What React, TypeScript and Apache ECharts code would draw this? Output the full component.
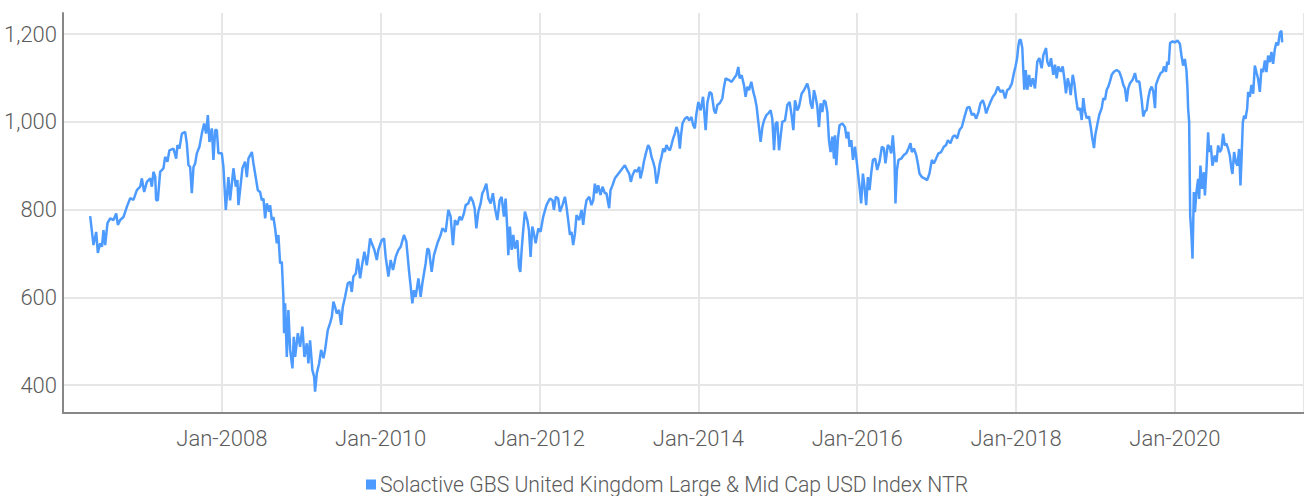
import React, { useEffect, useRef } from "react";
import * as echarts from "echarts";

// Index level (USD, net total return) sampled through time; x = decimal year.
const span2006_07: [number, number][] = [
  [2006.342, 785], [2006.384, 719], [2006.418, 749], [2006.439, 701], [2006.468, 723], [2006.49, 715],
  [2006.51, 753], [2006.531, 719], [2006.56, 769], [2006.594, 780], [2006.636, 776], [2006.67, 791],
  [2006.691, 765], [2006.72, 776], [2006.762, 783], [2006.804, 806], [2006.846, 826], [2006.887, 822],
  [2006.93, 844], [2006.972, 852], [2006.993, 871], [2007.022, 840], [2007.056, 863], [2007.098, 871],
  [2007.119, 852], [2007.139, 886], [2007.161, 875], [2007.173, 821], [2007.194, 821], [2007.223, 886],
  [2007.265, 894], [2007.286, 920], [2007.315, 909], [2007.34, 935], [2007.391, 939], [2007.425, 916],
  [2007.441, 947], [2007.466, 939], [2007.497, 973], [2007.538, 977], [2007.559, 951], [2007.58, 901],
  [2007.601, 897], [2007.622, 837], [2007.643, 897], [2007.664, 905], [2007.685, 928], [2007.718, 943],
  [2007.748, 973], [2007.777, 996], [2007.802, 973], [2007.824, 1015], [2007.844, 954], [2007.874, 985],
  [2007.894, 913], [2007.916, 981], [2007.937, 981], [2007.957, 928],
];

const span2008_09: [number, number][] = [
  [2008.0, 928], [2008.02, 897], [2008.05, 799], [2008.083, 874], [2008.104, 821], [2008.146, 894],
  [2008.176, 852], [2008.196, 867], [2008.209, 810], [2008.23, 844], [2008.259, 894], [2008.293, 909],
  [2008.315, 874], [2008.335, 916], [2008.378, 931], [2008.398, 905], [2008.419, 882], [2008.453, 844],
  [2008.482, 840], [2008.503, 821], [2008.524, 825], [2008.545, 780], [2008.566, 814], [2008.595, 795],
  [2008.608, 810], [2008.629, 776], [2008.649, 783], [2008.671, 757], [2008.692, 723], [2008.712, 742],
  [2008.734, 677], [2008.755, 681], [2008.775, 601], [2008.784, 518], [2008.797, 586], [2008.818, 464],
  [2008.838, 571], [2008.86, 480], [2008.889, 438], [2008.906, 510], [2008.923, 464], [2008.957, 518],
  [2008.986, 487], [2009.014, 533], [2009.04, 464], [2009.07, 495], [2009.09, 449], [2009.111, 502],
  [2009.14, 434], [2009.162, 419], [2009.174, 385], [2009.196, 427], [2009.225, 449], [2009.25, 480],
  [2009.279, 461], [2009.3, 480], [2009.334, 525], [2009.363, 541], [2009.385, 556], [2009.405, 590],
  [2009.426, 578], [2009.447, 563], [2009.476, 571], [2009.502, 537], [2009.523, 578], [2009.552, 601],
  [2009.586, 632], [2009.615, 635], [2009.636, 612], [2009.656, 647], [2009.687, 654], [2009.712, 688],
  [2009.741, 643], [2009.762, 669], [2009.795, 704], [2009.825, 673], [2009.845, 700], [2009.867, 734],
  [2009.888, 723], [2009.921, 708], [2009.951, 685], [2009.971, 708],
];

const span2010_11: [number, number][] = [
  [2010.013, 730], [2010.042, 734], [2010.063, 692], [2010.097, 647], [2010.126, 685], [2010.155, 662],
  [2010.189, 692], [2010.223, 708], [2010.252, 715], [2010.293, 742], [2010.323, 727], [2010.356, 662],
  [2010.378, 624], [2010.399, 586], [2010.419, 616], [2010.441, 601], [2010.475, 643], [2010.503, 601],
  [2010.525, 632], [2010.566, 677], [2010.588, 711], [2010.608, 708], [2010.642, 658], [2010.671, 696],
  [2010.714, 723], [2010.755, 742], [2010.777, 757], [2010.818, 749], [2010.852, 799], [2010.881, 784],
  [2010.91, 719], [2010.935, 776], [2010.965, 765], [2010.994, 784], [2011.02, 776], [2011.048, 791],
  [2011.07, 810], [2011.104, 814], [2011.133, 829], [2011.162, 818], [2011.183, 803], [2011.205, 757],
  [2011.23, 795], [2011.259, 814], [2011.28, 837], [2011.3, 844], [2011.33, 859], [2011.356, 825],
  [2011.385, 814], [2011.413, 837], [2011.439, 803], [2011.469, 776], [2011.498, 821], [2011.523, 829],
  [2011.552, 784], [2011.573, 825], [2011.595, 753], [2011.607, 696], [2011.627, 761], [2011.649, 708],
  [2011.67, 742], [2011.69, 711], [2011.721, 730], [2011.741, 669], [2011.758, 658], [2011.775, 708],
  [2011.791, 745], [2011.816, 795], [2011.846, 776], [2011.867, 753], [2011.888, 692], [2011.909, 761],
  [2011.93, 745], [2011.951, 723], [2011.985, 757],
];

const span2012_13: [number, number][] = [
  [2012.013, 749], [2012.047, 784], [2012.088, 810], [2012.131, 825], [2012.164, 821], [2012.181, 799],
  [2012.206, 829], [2012.235, 825], [2012.257, 795], [2012.289, 810], [2012.32, 829], [2012.34, 806],
  [2012.361, 776], [2012.383, 742], [2012.403, 749], [2012.424, 719], [2012.446, 745], [2012.466, 787],
  [2012.5, 776], [2012.529, 799], [2012.55, 765], [2012.571, 799], [2012.592, 821], [2012.626, 829],
  [2012.654, 810], [2012.676, 821], [2012.697, 859], [2012.717, 837], [2012.739, 855], [2012.768, 833],
  [2012.793, 852], [2012.823, 837], [2012.843, 837], [2012.865, 814], [2012.877, 803], [2012.894, 844],
  [2012.919, 855], [2012.949, 871], [2012.978, 878], [2013.012, 886], [2013.045, 894], [2013.075, 901],
  [2013.104, 890], [2013.129, 882], [2013.15, 863], [2013.171, 878], [2013.201, 890], [2013.23, 886],
  [2013.255, 897], [2013.271, 871], [2013.296, 890], [2013.314, 909], [2013.339, 928], [2013.368, 947],
  [2013.39, 939], [2013.41, 920], [2013.431, 909], [2013.452, 894], [2013.473, 859], [2013.494, 878],
  [2013.515, 905], [2013.536, 920], [2013.557, 939], [2013.578, 931], [2013.598, 947], [2013.62, 939],
  [2013.641, 935], [2013.661, 947], [2013.683, 962], [2013.704, 973], [2013.724, 988], [2013.746, 977],
  [2013.767, 939], [2013.78, 966], [2013.8, 996], [2013.83, 1007], [2013.859, 1011], [2013.884, 1003],
  [2013.913, 1011], [2013.935, 992], [2013.956, 985], [2013.976, 1019],
];

const span2014_15: [number, number][] = [
  [2014.0, 1045], [2014.029, 1026], [2014.059, 1057], [2014.092, 981], [2014.113, 1042], [2014.142, 1068],
  [2014.167, 1064], [2014.198, 1026], [2014.218, 1019], [2014.239, 1038], [2014.268, 1042], [2014.302, 1053],
  [2014.323, 1080], [2014.344, 1099], [2014.386, 1095], [2014.419, 1091], [2014.449, 1099], [2014.478, 1106],
  [2014.503, 1125], [2014.52, 1099], [2014.545, 1106], [2014.575, 1083], [2014.595, 1057], [2014.617, 1080],
  [2014.638, 1072], [2014.667, 1091], [2014.692, 1068], [2014.714, 1053], [2014.734, 1034], [2014.755, 1000],
  [2014.784, 954], [2014.806, 988], [2014.827, 1003], [2014.856, 1015], [2014.881, 1019], [2014.91, 1026],
  [2014.931, 1007], [2014.953, 935], [2014.973, 996], [2014.994, 1000], [2015.016, 935], [2015.036, 966],
  [2015.057, 1000], [2015.091, 1003], [2015.12, 1038], [2015.149, 1045], [2015.174, 1015], [2015.196, 981],
  [2015.217, 1049], [2015.246, 1026], [2015.267, 1034], [2015.3, 1064], [2015.33, 1072], [2015.351, 1080],
  [2015.372, 1087], [2015.393, 1072], [2015.413, 1042], [2015.435, 1030], [2015.456, 1072], [2015.476, 1057],
  [2015.498, 1034], [2015.519, 988], [2015.539, 1042], [2015.561, 1022], [2015.582, 1049], [2015.602, 1045],
  [2015.624, 1022], [2015.645, 958], [2015.665, 931], [2015.687, 966], [2015.708, 916], [2015.721, 969],
  [2015.737, 901], [2015.758, 962], [2015.778, 992], [2015.813, 996], [2015.846, 988], [2015.867, 962],
  [2015.888, 977], [2015.904, 943], [2015.926, 958], [2015.947, 913], [2015.972, 943], [2015.992, 913],
];

const span2016_17: [number, number][] = [
  [2016.013, 878], [2016.029, 852], [2016.05, 814], [2016.072, 882], [2016.092, 852], [2016.113, 810],
  [2016.135, 874], [2016.155, 844], [2016.176, 882], [2016.198, 913], [2016.227, 916], [2016.252, 890],
  [2016.281, 909], [2016.311, 943], [2016.336, 939], [2016.356, 905], [2016.386, 947], [2016.407, 943],
  [2016.428, 928], [2016.449, 969], [2016.469, 920], [2016.482, 814], [2016.5, 890], [2016.52, 913],
  [2016.554, 916], [2016.588, 924], [2016.617, 928], [2016.646, 939], [2016.671, 951], [2016.688, 931],
  [2016.714, 939], [2016.743, 924], [2016.764, 905], [2016.784, 882], [2016.814, 874], [2016.847, 871],
  [2016.881, 867], [2016.91, 882], [2016.94, 913], [2016.965, 905], [2016.994, 916], [2017.023, 928],
  [2017.057, 931], [2017.091, 943], [2017.12, 947], [2017.142, 958], [2017.174, 951], [2017.205, 966],
  [2017.233, 969], [2017.259, 962], [2017.288, 981], [2017.318, 988], [2017.351, 1011], [2017.385, 1032],
  [2017.413, 1034], [2017.444, 1015], [2017.469, 1019], [2017.498, 1007], [2017.527, 1022], [2017.552, 1042],
  [2017.582, 1049], [2017.602, 1038], [2017.624, 1019], [2017.645, 1030], [2017.678, 1045], [2017.708, 1057],
  [2017.737, 1064], [2017.771, 1080], [2017.804, 1068], [2017.834, 1072], [2017.863, 1053], [2017.888, 1072],
  [2017.917, 1076], [2017.947, 1087], [2017.972, 1110], [2017.992, 1125],
];

const span2018_19: [number, number][] = [
  [2018.013, 1144], [2018.029, 1172], [2018.042, 1186], [2018.059, 1187], [2018.079, 1168], [2018.092, 1115],
  [2018.104, 1073], [2018.122, 1118], [2018.142, 1073], [2018.164, 1107], [2018.185, 1080], [2018.21, 1099],
  [2018.239, 1076], [2018.268, 1137], [2018.293, 1145], [2018.323, 1122], [2018.344, 1152], [2018.378, 1168],
  [2018.394, 1137], [2018.419, 1126], [2018.441, 1145], [2018.469, 1107], [2018.491, 1130], [2018.512, 1099],
  [2018.532, 1126], [2018.563, 1114], [2018.588, 1126], [2018.608, 1099], [2018.629, 1065], [2018.651, 1099],
  [2018.671, 1084], [2018.688, 1061], [2018.714, 1107], [2018.734, 1088], [2018.755, 1054], [2018.777, 1027],
  [2018.806, 1031], [2018.827, 1004], [2018.847, 1054], [2018.868, 1024], [2018.89, 1008], [2018.919, 1012],
  [2018.94, 989], [2018.96, 963], [2018.982, 940], [2018.998, 970], [2019.023, 993], [2019.048, 1016],
  [2019.079, 1031], [2019.099, 1054], [2019.12, 1050], [2019.142, 1073], [2019.162, 1080], [2019.183, 1092],
  [2019.205, 1107], [2019.233, 1114], [2019.267, 1118], [2019.3, 1114], [2019.33, 1099], [2019.351, 1084],
  [2019.372, 1076], [2019.393, 1046], [2019.413, 1076], [2019.435, 1088], [2019.469, 1096], [2019.498, 1111],
  [2019.519, 1092], [2019.552, 1092], [2019.582, 1050], [2019.602, 1012], [2019.624, 1024], [2019.645, 1027],
  [2019.665, 1054], [2019.687, 1073], [2019.708, 1080], [2019.728, 1069], [2019.75, 1031], [2019.762, 1084],
  [2019.791, 1099], [2019.821, 1111], [2019.846, 1114], [2019.863, 1126], [2019.888, 1114], [2019.904, 1137],
  [2019.922, 1130], [2019.94, 1180], [2019.972, 1183],
];

const span2020_21: [number, number][] = [
  [2020.0, 1181], [2020.033, 1185], [2020.063, 1178], [2020.083, 1151], [2020.104, 1128], [2020.126, 1143],
  [2020.146, 1117], [2020.159, 1075], [2020.167, 1030], [2020.18, 999], [2020.193, 787], [2020.209, 741],
  [2020.222, 688], [2020.239, 840], [2020.252, 794], [2020.272, 840], [2020.293, 870], [2020.306, 824],
  [2020.322, 900], [2020.344, 847], [2020.365, 885], [2020.378, 832], [2020.398, 893], [2020.419, 976],
  [2020.432, 931], [2020.453, 946], [2020.473, 900], [2020.503, 923], [2020.524, 908], [2020.545, 946],
  [2020.566, 931], [2020.587, 938], [2020.608, 973], [2020.629, 946], [2020.649, 950], [2020.671, 938],
  [2020.692, 923], [2020.712, 893], [2020.725, 881], [2020.746, 931], [2020.768, 908], [2020.788, 900],
  [2020.809, 938], [2020.826, 855], [2020.838, 908], [2020.856, 999], [2020.872, 1014], [2020.889, 1007],
  [2020.91, 1030], [2020.923, 1068], [2020.944, 1057], [2020.964, 1084], [2020.986, 1064], [2021.007, 1128],
  [2021.027, 1113], [2021.048, 1098], [2021.07, 1068], [2021.09, 1121], [2021.111, 1113], [2021.133, 1140],
  [2021.153, 1113], [2021.174, 1151], [2021.196, 1136], [2021.216, 1159], [2021.237, 1132], [2021.259, 1166],
  [2021.279, 1181], [2021.3, 1174], [2021.322, 1203], [2021.342, 1207], [2021.351, 1181],
];

const seriesName = "Solactive GBS United Kingdom Large & Mid Cap USD Index NTR";
const yTicks = [400, 600, 800, 1000, 1200];
const xTickYears = [2008, 2010, 2012, 2014, 2016, 2018, 2020];

const X_MIN = 2006;
const X_MAX = 2021.626;
const LINE_COLOR = "#4d9bff";
const TEXT_COLOR = "#5b5b5b";
const GRID_COLOR = "#e6e6e6";
const AXIS_COLOR = "#878787";
const FONT = "Roboto, 'Noto Sans', sans-serif";

export default function App() {
  const ref = useRef<HTMLDivElement>(null);

  useEffect(() => {
    if (!ref.current) return;
    const chart = echarts.init(ref.current, undefined, { renderer: "svg" });
    const data = [
      ...span2006_07, ...span2008_09, ...span2010_11, ...span2012_13,
      ...span2014_15, ...span2016_17, ...span2018_19, ...span2020_21,
    ];
    const labelStyle = { fontSize: 22, color: TEXT_COLOR, fontFamily: FONT, fontWeight: 300 as const };

    chart.setOption({
      animation: false,
      grid: [
        // outer frame: axis lines and yearly grid lines
        { left: 63, right: 0, top: 13, height: 400 },
        // inner band that carries the value ticks
        { left: 63, right: 0, top: 34, height: 351 },
      ],
      legend: {
        data: [seriesName],
        icon: "rect",
        itemWidth: 10,
        itemHeight: 10,
        itemGap: 5,
        left: 361,
        top: 469,
        textStyle: { ...labelStyle, fontSize: 21.2, padding: [0, 0, 0, -1] },
      },
      xAxis: [
        {
          type: "value",
          gridIndex: 0,
          min: X_MIN,
          max: X_MAX,
          interval: 2,
          axisLine: { show: true, lineStyle: { color: AXIS_COLOR, width: 2 } },
          axisTick: { show: false },
          splitLine: { show: true, lineStyle: { color: GRID_COLOR, width: 2 } },
          axisLabel: {
            ...labelStyle,
            margin: 14,
            showMinLabel: false,
            showMaxLabel: false,
            formatter: (v: number) => (xTickYears.includes(v) ? "Jan-" + v : ""),
          },
        },
        { type: "value", gridIndex: 1, min: X_MIN, max: X_MAX, show: false },
      ],
      yAxis: [
        {
          type: "value",
          gridIndex: 0,
          min: 336.2,
          max: 1247.9,
          axisLine: { show: true, lineStyle: { color: AXIS_COLOR, width: 2 } },
          axisTick: { show: false },
          axisLabel: { show: false },
          splitLine: { show: false },
        },
        {
          type: "value",
          gridIndex: 1,
          min: yTicks[0],
          max: yTicks[yTicks.length - 1],
          interval: 200,
          axisLine: { show: false },
          axisTick: { show: false },
          splitLine: { show: true, lineStyle: { color: GRID_COLOR, width: 2 } },
          axisLabel: {
            ...labelStyle,
            margin: 6,
            formatter: (v: number) => v.toLocaleString("en-US"),
          },
        },
      ],
      series: [
        {
          name: seriesName,
          type: "line",
          xAxisIndex: 0,
          yAxisIndex: 0,
          data,
          showSymbol: false,
          symbol: "none",
          lineStyle: { color: LINE_COLOR, width: 2.5 },
          itemStyle: { color: LINE_COLOR },
          z: 5,
        },
      ],
    });

    return () => chart.dispose();
  }, []);

  return (
    <div
      ref={ref}
      style={{ position: "fixed", left: 0, top: 0, width: 1304, height: 496, background: "#fff" }}
    />
  );
}
